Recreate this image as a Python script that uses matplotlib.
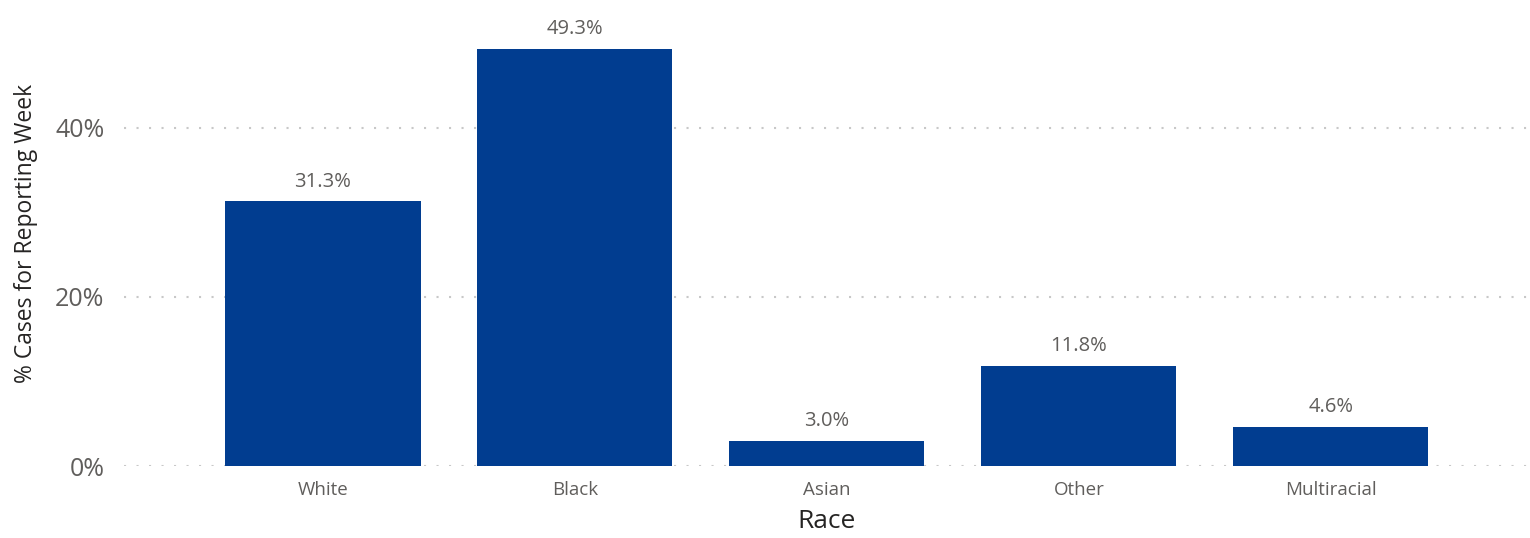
import matplotlib.pyplot as plt
from matplotlib.ticker import FuncFormatter

races = ['White', 'Black', 'Asian', 'Other', 'Multiracial']
pct_cases = [31.3, 49.3, 3.0, 11.8, 4.6]
y_ticks = [0, 20, 40]

plt.rcParams['font.family'] = ['Open Sans', 'DejaVu Sans']

fig = plt.figure(figsize=(15.3, 5.38), dpi=100)
ax = fig.add_axes([0.081, 0.1338, 0.919, 0.8662])

bars = ax.bar(range(len(races)), pct_cases, width=0.774, color='#013D90', zorder=3)

for b, v in zip(bars, pct_cases):
    ax.annotate(f'{v:.1f}%', (b.get_x() + b.get_width() / 2, v),
                xytext=(0, 7), textcoords='offset points',
                ha='center', va='bottom', fontsize=14.5, color='#605E5C')

ax.set_xlim(-0.79, 4.79)
ax.set_ylim(0, 55.1)
ax.set_yticks(y_ticks)
ax.yaxis.set_major_formatter(FuncFormatter(lambda v, p: f'{v:.0f}%'))
ax.set_xticks(range(len(races)))
ax.set_xticklabels(races)

ax.tick_params(axis='y', length=0, pad=14, labelsize=18, labelcolor='#605E5C')
ax.tick_params(axis='x', length=0, pad=11, labelsize=13.5, labelcolor='#605E5C')

ax.grid(axis='y', color='#C8C8C8', linewidth=1.5, dashes=(1, 5), zorder=0)
for s in ax.spines.values():
    s.set_visible(False)

ax.set_xlabel('Race', fontsize=19, color='#252423', labelpad=7)
ax.set_ylabel('% Cases for Reporting Week', fontsize=16.5, color='#252423', labelpad=12)

fig.savefig('out.png', dpi=100)
